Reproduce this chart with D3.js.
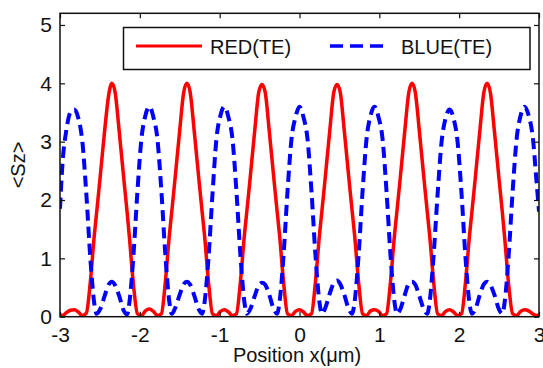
<!DOCTYPE html>
<html>
<head>
<meta charset="utf-8">
<script src="https://cdn.jsdelivr.net/npm/d3@7"></script>
<style>
  body { margin: 0; background: #fff; }
  text { font-family: "Liberation Sans", Arial, sans-serif; fill: #111; }
</style>
</head>
<body>
<svg id="chart" width="543" height="368"></svg>
<script>
// positions along x (um)
const xPos = [
  -3.00, -2.97, -2.92, -2.87,
  -2.82, -2.77, -2.72, -2.67, -2.62, -2.57, -2.54, -2.50, -2.44, -2.39, -2.35, -2.31, -2.26, -2.20, -2.16, -2.13, -2.08, -2.03, -1.98, -1.93,
  -1.88, -1.83, -1.78, -1.73, -1.68, -1.63, -1.60, -1.56, -1.50, -1.45, -1.41, -1.37, -1.32, -1.26, -1.22, -1.19, -1.14, -1.09, -1.04, -0.99,
  -0.94, -0.89, -0.84, -0.79, -0.74, -0.69, -0.66, -0.62, -0.56, -0.51, -0.47, -0.43, -0.38, -0.32, -0.28, -0.25, -0.20, -0.15, -0.10, -0.05,
  0.00, 0.05, 0.10, 0.15, 0.20, 0.25, 0.28, 0.32, 0.38, 0.43, 0.47, 0.51, 0.56, 0.62, 0.66, 0.69, 0.74, 0.79, 0.84, 0.89,
  0.94, 0.99, 1.04, 1.09, 1.14, 1.19, 1.22, 1.26, 1.32, 1.37, 1.41, 1.45, 1.50, 1.56, 1.60, 1.63, 1.68, 1.73, 1.78, 1.83,
  1.88, 1.93, 1.98, 2.03, 2.08, 2.13, 2.16, 2.20, 2.26, 2.31, 2.35, 2.39, 2.44, 2.50, 2.54, 2.57, 2.62, 2.67, 2.72, 2.77,
  2.82, 2.87, 2.92, 2.97, 3.00
];

const redTE = [
  0.03, 0.02, 0.07, 0.11,
  0.12, 0.08, 0.02, 0.06, 0.60, 1.40, 1.80, 2.35, 3.20, 3.80, 4.00, 3.85, 3.20, 2.35, 1.80, 1.35, 0.55, 0.05, 0.02, 0.10,
  0.13, 0.09, 0.02, 0.05, 0.60, 1.40, 1.80, 2.35, 3.20, 3.85, 4.00, 3.85, 3.20, 2.35, 1.80, 1.40, 0.60, 0.05, 0.02, 0.09,
  0.12, 0.08, 0.02, 0.05, 0.60, 1.40, 1.80, 2.35, 3.20, 3.85, 3.98, 3.85, 3.20, 2.35, 1.80, 1.40, 0.60, 0.05, 0.02, 0.09,
  0.12, 0.08, 0.02, 0.05, 0.60, 1.40, 1.80, 2.35, 3.20, 3.85, 3.98, 3.85, 3.20, 2.35, 1.80, 1.40, 0.60, 0.05, 0.02, 0.10,
  0.12, 0.09, 0.02, 0.05, 0.60, 1.40, 1.80, 2.35, 3.20, 3.85, 4.00, 3.85, 3.20, 2.35, 1.80, 1.40, 0.60, 0.05, 0.02, 0.09,
  0.12, 0.08, 0.02, 0.05, 0.60, 1.40, 1.80, 2.35, 3.20, 3.85, 4.00, 3.85, 3.20, 2.35, 1.80, 1.35, 0.55, 0.05, 0.02, 0.09,
  0.12, 0.10, 0.05, 0.02, 0.03
];

const blueTE = [
  1.85, 2.60, 3.20, 3.50,
  3.55, 3.40, 3.00, 2.10, 1.00, 0.22, 0.05, 0.12, 0.36, 0.55, 0.60, 0.54, 0.36, 0.10, 0.04, 0.25, 1.05, 2.15, 3.05, 3.45,
  3.60, 3.42, 3.05, 2.15, 1.05, 0.25, 0.05, 0.14, 0.38, 0.56, 0.60, 0.55, 0.37, 0.12, 0.05, 0.24, 1.00, 2.10, 3.05, 3.45,
  3.60, 3.42, 3.05, 2.15, 1.05, 0.25, 0.05, 0.12, 0.36, 0.54, 0.58, 0.55, 0.38, 0.12, 0.05, 0.25, 1.05, 2.15, 3.05, 3.42,
  3.60, 3.42, 3.05, 2.15, 1.05, 0.25, 0.05, 0.14, 0.40, 0.58, 0.62, 0.56, 0.38, 0.12, 0.05, 0.25, 1.05, 2.15, 3.05, 3.45,
  3.60, 3.42, 3.05, 2.15, 1.05, 0.25, 0.05, 0.12, 0.38, 0.57, 0.60, 0.55, 0.36, 0.12, 0.05, 0.25, 1.05, 2.10, 3.00, 3.40,
  3.55, 3.40, 3.00, 2.10, 1.00, 0.22, 0.05, 0.12, 0.38, 0.56, 0.60, 0.55, 0.38, 0.12, 0.05, 0.25, 1.05, 2.15, 3.05, 3.45,
  3.60, 3.45, 3.10, 2.30, 1.80
];

const xTicks = [-3, -2, -1, 0, 1, 2, 3];
const yTicks = [0, 1, 2, 3, 4, 5];
const legendLabels = ["RED(TE)", "BLUE(TE)"];

const svg = d3.select("#chart");
const mLeft = 60, mRight = 539, mTop = 13.3, mBottom = 316.7;

const x = d3.scaleLinear().domain([-3, 3]).range([mLeft, mRight]);
const y = d3.scaleLinear().domain([0, 5.2]).range([mBottom, mTop]);

// clip so lines stay in the box
svg.append("defs").append("clipPath").attr("id", "clip")
  .append("rect")
  .attr("x", mLeft).attr("y", mTop)
  .attr("width", mRight - mLeft).attr("height", mBottom - mTop);

const line = d3.line()
  .x(d => x(d[0]))
  .y(d => y(d[1]))
  .curve(d3.curveMonotoneX);

const plot = svg.append("g").attr("clip-path", "url(#clip)");

plot.append("path")
  .datum(xPos.map((v, i) => [v, redTE[i]]))
  .attr("d", line)
  .attr("fill", "none")
  .attr("stroke", "#ff0000")
  .attr("stroke-width", 3.5)
  .attr("stroke-linejoin", "round");

plot.append("path")
  .datum(xPos.map((v, i) => [v, blueTE[i]]))
  .attr("d", line)
  .attr("fill", "none")
  .attr("stroke", "#0000ff")
  .attr("stroke-width", 4)
  .attr("stroke-dasharray", "11,6");

// axes, MATLAB style with inward ticks
const plain = d => String(d);

svg.append("g")
  .attr("transform", "translate(0," + mBottom + ")")
  .call(d3.axisBottom(x).tickValues(xTicks).tickSizeInner(-5).tickSizeOuter(0).tickPadding(10).tickFormat(plain));

svg.append("g")
  .attr("transform", "translate(" + mLeft + ",0)")
  .call(d3.axisLeft(y).tickValues(yTicks).tickSizeInner(-5).tickSizeOuter(0).tickPadding(8).tickFormat(plain));

svg.append("g")
  .attr("transform", "translate(0," + mTop + ")")
  .call(d3.axisTop(x).tickValues(xTicks).tickSizeInner(-5).tickSizeOuter(0).tickFormat(""));

svg.append("g")
  .attr("transform", "translate(" + mRight + ",0)")
  .call(d3.axisRight(y).tickValues(yTicks).tickSizeInner(-5).tickSizeOuter(0).tickFormat(""));

svg.selectAll(".domain").remove();
svg.selectAll(".tick line").attr("stroke", "#111").attr("stroke-width", 1.2);
svg.selectAll(".tick text")
  .style("font-family", "'Liberation Sans', Arial, sans-serif")
  .style("font-size", "21px")
  .attr("fill", "#111");

svg.append("rect")
  .attr("x", mLeft).attr("y", mTop)
  .attr("width", mRight - mLeft).attr("height", mBottom - mTop)
  .attr("fill", "none")
  .attr("stroke", "#111")
  .attr("stroke-width", 1.5);

// axis labels
svg.append("text")
  .attr("x", 297).attr("y", 362)
  .attr("text-anchor", "middle")
  .style("font-size", "20px")
  .text("Position x(\u03bcm)");

svg.append("text")
  .attr("transform", "translate(25,165) rotate(-90)")
  .attr("text-anchor", "middle")
  .style("font-size", "20px")
  .text("<Sz>");

// legend
const lg = svg.append("g");
lg.append("rect")
  .attr("x", 123.5).attr("y", 27.5)
  .attr("width", 406.5).attr("height", 42)
  .attr("fill", "#fff")
  .attr("stroke", "#111")
  .attr("stroke-width", 1.5);

lg.append("line")
  .attr("x1", 136).attr("x2", 202).attr("y1", 46).attr("y2", 46)
  .attr("stroke", "#ff0000").attr("stroke-width", 3);
lg.append("text")
  .attr("x", 210).attr("y", 53.5)
  .style("font-size", "20px")
  .text(legendLabels[0]);

lg.append("line")
  .attr("x1", 330).attr("x2", 390).attr("y1", 46).attr("y2", 46)
  .attr("stroke", "#0000ff").attr("stroke-width", 3.5)
  .attr("stroke-dasharray", "13,7");
lg.append("text")
  .attr("x", 401).attr("y", 53.5)
  .style("font-size", "20px")
  .text(legendLabels[1]);
</script>
</body>
</html>
